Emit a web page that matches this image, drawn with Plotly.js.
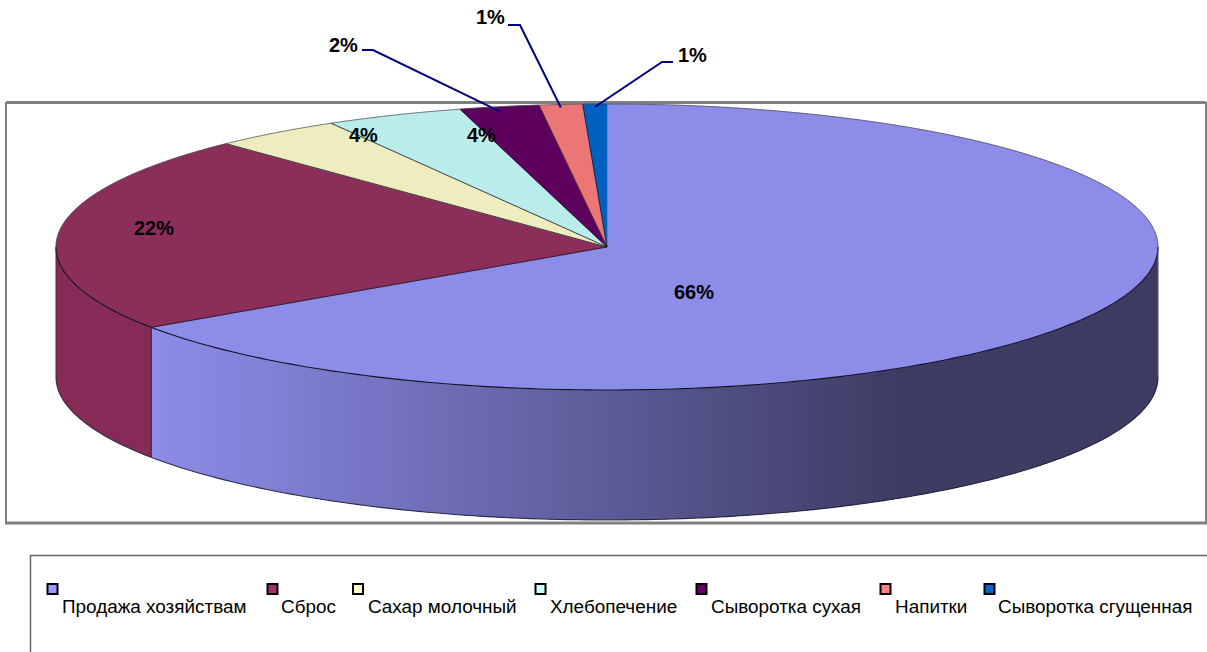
<!DOCTYPE html>
<html><head><meta charset="utf-8">
<script src="https://cdn.plot.ly/plotly-3.0.0.min.js"></script>
<style>html,body{margin:0;padding:0;background:#fff;overflow:hidden}</style></head>
<body><div id="chart" style="width:1207px;height:652px"></div>
<script>
// Data
const categories = ["Продажа хозяйствам","Сброс","Сахар молочный","Хлебопечение","Сыворотка сухая","Напитки","Сыворотка сгущенная"];
const shares = [65.5,22.35,3.8,4.05,2.33,1.27,0.7];
const shareLabels = ["66%","22%","4%","4%","2%","1%","1%"];
// Styles
const topColors = ["#8C8CE9","#8B2E5A","#EDEDBF","#BBECEC","#5E005E","#EC7676","#0060BF"];
const legendColors = ["#9999FF","#993366","#FFFFCC","#CCFFFF","#660066","#FF8080","#0066CC"];
const legendMarkerX = [52.5,272.5,358,540.5,701.5,885.5,989.5];
const legendTextX = [62,281,367.5,550,711,895,998];
const labelPos = [[694,292],[153.5,228],[363.5,135],[481.5,135],[343,45],[490,17],[692.5,55]];
const leaderElbow = [null,null,null,null,[[362,50],[373,50]],[[508,25],[520,25]],[[673,62],[662,62]]];
const leaderRadius = [0,0,0,0,0.985,1.0,1.0];

// Geometry of the tilted disc
const cx=607, cy=247, rx=551, ry=143, depth=130;
const px=(t,r=1)=>cx+rx*r*Math.sin(t), py=(t,r=1,d=0)=>cy-ry*r*Math.cos(t)+d;
const total=shares.reduce((a,b)=>a+b,0);
const edges=[0]; shares.forEach(v=>edges.push(edges[edges.length-1]+v/total*2*Math.PI));
const deg=Math.PI/180;
function arc(a,b,step){const o=[];const n=Math.max(1,Math.ceil(Math.abs(b-a)/step));for(let i=0;i<=n;i++)o.push(a+(b-a)*i/n);return o;}
const traces=[];
function poly(xs,ys,color,lineColor,w){traces.push({type:'scatter',mode:'lines',x:xs,y:ys,fill:'toself',fillcolor:color,line:{color:lineColor||color,width:w===undefined?0:w,simplify:false},hoverinfo:'skip',showlegend:false});}
function stroke(xs,ys,color,w){traces.push({type:'scatter',mode:'lines',x:xs,y:ys,line:{color:color,width:w,simplify:false},hoverinfo:'skip',showlegend:false});}
function mix(x){const t=Math.min(1,Math.max(0,(x-152)/(890-152)));const A=[140,140,233],B=[61,60,99];return 'rgb('+A.map((v,i)=>Math.round(v+(B[i]-v)*t)).join(',')+')';}

// Side wall: first slice as narrow shaded strips painted right to left, each overlapping the previous one
const sideStart=Math.PI/2, sideEnd=edges[1];
arc(sideStart,sideEnd,0.5*deg).forEach((t,i,all)=>{
  if(i===all.length-1)return; const u=all[i+1];
  const a=Math.max(sideStart,t-deg);
  const seg=arc(a,u,0.25*deg), rev=seg.slice().reverse();
  poly(seg.map(s=>px(s)).concat(rev.map(s=>px(s))),seg.map(s=>py(s)).concat(rev.map(s=>py(s,1,depth))),mix((px(t)+px(u))/2));
});
const ws=arc(edges[1],1.5*Math.PI,deg);
poly(ws.map(t=>px(t)).concat(ws.slice().reverse().map(t=>px(t))),ws.map(t=>py(t,1,depth)).concat(ws.slice().reverse().map(t=>py(t))),'#862B58');

// Top faces
shares.forEach((v,i)=>{
  const a=arc(edges[i],edges[i+1],deg/2);
  poly([cx].concat(a.map(t=>px(t)),[cx]),[cy].concat(a.map(t=>py(t)),[cy]),topColors[i],topColors[i],0.5);
});
// Slice separators
for(let i=1;i<shares.length;i++){stroke([cx,px(edges[i])],[cy,py(edges[i])],'rgba(20,20,30,0.8)',1);}
// Rim lines
const back=arc(1.5*Math.PI,2.5*Math.PI,deg);
stroke(back.map(t=>px(t)),back.map(t=>py(t)),'rgba(70,70,80,0.7)',1);
const front=arc(Math.PI/2,1.5*Math.PI,deg);
stroke(front.map(t=>px(t)),front.map(t=>py(t)),'#111122',1.1);
stroke(front.map(t=>px(t)),front.map(t=>py(t,1,depth)),'rgba(30,30,50,0.85)',1.1);
stroke([px(edges[1]),px(edges[1])],[py(edges[1]),py(edges[1],1,depth)],'#3a2a4a',1.2);
stroke([px(Math.PI/2),px(Math.PI/2)],[py(Math.PI/2),py(Math.PI/2,1,depth)],'#55556a',1);
stroke([px(1.5*Math.PI),px(1.5*Math.PI)],[py(1.5*Math.PI),py(1.5*Math.PI,1,depth)],'#5a2040',1);

// Leader lines
leaderElbow.forEach((e,i)=>{
  if(!e)return; const m=(edges[i]+edges[i+1])/2, r=leaderRadius[i];
  stroke([e[0][0],e[1][0],px(m,r)],[e[0][1],e[1][1],py(m,r)+3],'#000080',2);
});

// Legend keys
traces.push({type:'scatter',mode:'markers',x:legendMarkerX,y:legendColors.map(()=>589),
  marker:{symbol:'square',size:10,color:legendColors,line:{color:'#000',width:2}},hoverinfo:'skip',showlegend:false});

const annotations=[];
shareLabels.forEach((s,i)=>annotations.push({x:labelPos[i][0],y:labelPos[i][1],xref:'x',yref:'y',text:'<b>'+s+'</b>',showarrow:false,xanchor:'center',yanchor:'middle',font:{family:'Liberation Sans',size:20,color:'#000'}}));
categories.forEach((c,i)=>annotations.push({x:legendTextX[i],y:606,xref:'x',yref:'y',text:c,showarrow:false,xanchor:'left',yanchor:'middle',xshift:-2,font:{family:'Liberation Sans',size:18.9,color:'#000'}}));

const line=(x0,y0,x1,y1,c,w)=>({type:'line',xref:'x',yref:'y',x0,y0,x1,y1,layer:'below',line:{color:c,width:w}});
const shapes=[
  line(6,102.5,1206,102.5,'#808080',3),line(6,102,6,524,'#808080',2),line(1206,102,1206,524,'#808080',2),line(5,523,1207,523,'#808080',3),
  line(30.5,555.5,1207,555.5,'#666666',1.5),line(30.5,555,30.5,652,'#666666',1.5)
];
const layout={width:1207,height:652,margin:{l:0,r:0,t:0,b:0},paper_bgcolor:'#fff',plot_bgcolor:'#fff',showlegend:false,hovermode:false,
  xaxis:{range:[0,1207],visible:false,fixedrange:true},yaxis:{range:[652,0],visible:false,fixedrange:true},annotations,shapes};
Plotly.newPlot('chart',traces,layout,{displayModeBar:false,staticPlot:true});
</script></body></html>
